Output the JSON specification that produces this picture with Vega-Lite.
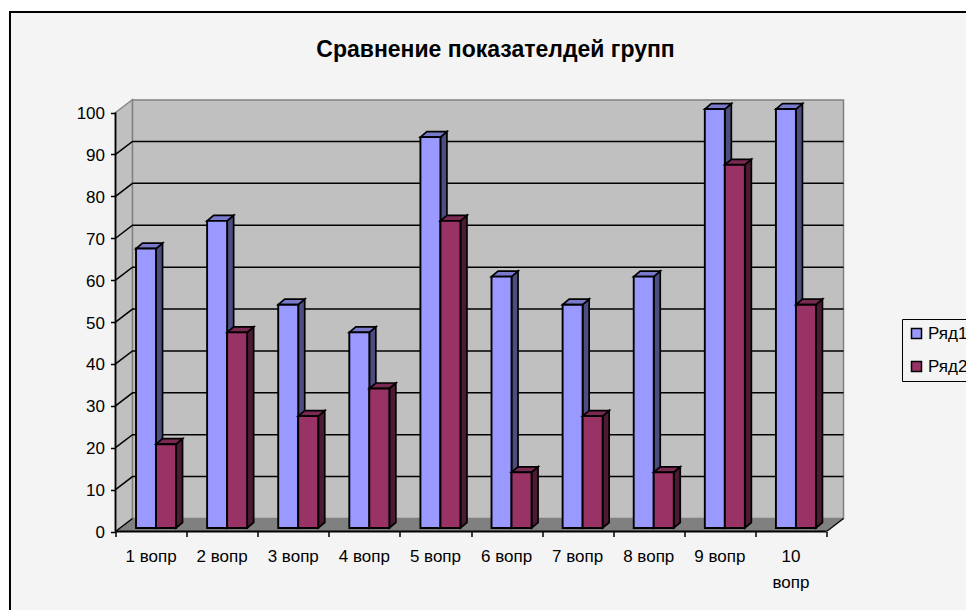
{
"$schema":"https://vega.github.io/schema/vega-lite/v6.json",
"width":728,"height":431.5,
"autosize":{"type":"none"},
"padding":{"left":115.5,"top":100,"right":122.5,"bottom":78.5},
"background":"#ffffff",
"view":{"stroke":null},
"title":{"text":"Сравнение показателдей групп","anchor":"middle","frame":"group","dx":16,"offset":-51,"font":"Liberation Sans","fontSize":23,"fontWeight":"bold","color":"#000000"},
"config":{"font":"Liberation Sans"},
"data":{"values":[
{"question":"1 вопр","series":"Ряд1","value":66.7},{"question":"1 вопр","series":"Ряд2","value":20},
{"question":"2 вопр","series":"Ряд1","value":73.3},{"question":"2 вопр","series":"Ряд2","value":46.7},
{"question":"3 вопр","series":"Ряд1","value":53.3},{"question":"3 вопр","series":"Ряд2","value":26.7},
{"question":"4 вопр","series":"Ряд1","value":46.7},{"question":"4 вопр","series":"Ряд2","value":33.3},
{"question":"5 вопр","series":"Ряд1","value":93.3},{"question":"5 вопр","series":"Ряд2","value":73.3},
{"question":"6 вопр","series":"Ряд1","value":60},{"question":"6 вопр","series":"Ряд2","value":13.3},
{"question":"7 вопр","series":"Ряд1","value":53.3},{"question":"7 вопр","series":"Ряд2","value":26.7},
{"question":"8 вопр","series":"Ряд1","value":60},{"question":"8 вопр","series":"Ряд2","value":13.3},
{"question":"9 вопр","series":"Ряд1","value":100},{"question":"9 вопр","series":"Ряд2","value":86.7},
{"question":"10 вопр","series":"Ряд1","value":100},{"question":"10 вопр","series":"Ряд2","value":53.3}
]},
"transform":[
{"calculate":"parseInt(datum.question)-1+0.2885+(datum.series=='Ряд2'?0.2815:0)","as":"b"},
{"calculate":"datum.value+0.84","as":"t"},
{"calculate":"[0,1,2,3]","as":"k"},
{"flatten":["k"]}
],
"layer":[
{"data":{"values":[{"a":0}]},"mark":{"type":"rect","fill":"#f4f4f4","stroke":"#000000","strokeWidth":2,"clip":false},
 "encoding":{
  "x":{"datum":-1.484,"type":"quantitative","scale":{"domain":[0,10.239],"nice":false,"zero":false},"axis":{"zindex":1,"values":[0,1,2,3,4,5,6,7,8,9,10],"title":null,"labels":false,"domain":false,"grid":false,"tickSize":5,"tickColor":"#000000","tickWidth":1.5}},
  "x2":{"datum":12.1},
  "y":{"datum":124,"type":"quantitative","scale":{"domain":[0,103],"nice":false,"zero":false},"axis":{"zindex":1,"values":[0,10,20,30,40,50,60,70,80,90,100],"title":null,"domain":false,"grid":false,"tickSize":5,"tickColor":"#000000","tickWidth":1.5,"labelFontSize":17,"labelColor":"#000000","labelPadding":6,"labelOffset":1,"labelFont":"Liberation Sans"}},
  "y2":{"datum":-21.1}}},
{"data":{"values":[{"k":0},{"k":1}]},"transform":[{"calculate":"datum.k*0.2393","as":"px"},{"calculate":"datum.k*3.1","as":"py"},{"calculate":"100+datum.k*3.1","as":"pt"}],
 "mark":{"type":"area","fill":"#c0c0c0","stroke":"#808080","strokeWidth":1.3},
 "encoding":{"x":{"field":"px","type":"quantitative"},"y":{"field":"pt","type":"quantitative","stack":false},"y2":{"field":"py"}}},
{"data":{"values":[{"a":0}]},"mark":{"type":"rect","fill":"#c0c0c0","stroke":"#808080","strokeWidth":1.5},
 "encoding":{"x":{"datum":0.2393,"type":"quantitative"},"x2":{"datum":10.239},"y":{"datum":3.1,"type":"quantitative"},"y2":{"datum":103}}},
{"data":{"values":[{"k":0},{"k":1},{"k":2},{"k":3}]},"transform":[{"calculate":"[0,0.2393,10,10.2393][datum.k]","as":"px"},{"calculate":"[0,3.1,3.1,3.1][datum.k]","as":"pt"},{"calculate":"[0,0,0,3.1][datum.k]","as":"pb"}],
 "mark":{"type":"area","fill":"#808080"},
 "encoding":{"x":{"field":"px","type":"quantitative"},"y":{"field":"pt","type":"quantitative","stack":false},"y2":{"field":"pb"}}},
{"data":{"values":[{"tick":10},{"tick":20},{"tick":30},{"tick":40},{"tick":50},{"tick":60},{"tick":70},{"tick":80},{"tick":90}]},
 "transform":[{"calculate":"[0,1,2]","as":"k"},{"flatten":["k"]},{"calculate":"[0,0.2393,10.2393][datum.k]","as":"px"},{"calculate":"datum.tick+(datum.k>0?3.1:0)","as":"py"}],
 "mark":{"type":"line","color":"#000000","strokeWidth":1.5},
 "encoding":{"x":{"field":"px","type":"quantitative"},"y":{"field":"py","type":"quantitative"},"detail":{"field":"tick"}}},
{"data":{"values":[{"k":0},{"k":1}]},"transform":[{"calculate":"datum.k*0.2393","as":"px"},{"calculate":"datum.k*3.1","as":"py"}],
 "mark":{"type":"line","color":"#000000","strokeWidth":1.3},
 "encoding":{"x":{"field":"px","type":"quantitative"},"y":{"field":"py","type":"quantitative"}}},
{"data":{"values":[{"k":0},{"k":1}]},"transform":[{"calculate":"datum.k*10","as":"px"},{"calculate":"0","as":"py"}],
 "mark":{"type":"line","color":"#000000","strokeWidth":1.8},
 "encoding":{"x":{"field":"px","type":"quantitative"},"y":{"field":"py","type":"quantitative"}}},
{"data":{"values":[{"k":0},{"k":1}]},"transform":[{"calculate":"0","as":"px"},{"calculate":"datum.k*100","as":"py"}],
 "mark":{"type":"line","color":"#000000","strokeWidth":1.8},
 "encoding":{"x":{"field":"px","type":"quantitative"},"y":{"field":"py","type":"quantitative"}}},
{"data":{"values":[{"k":0},{"k":1}]},"transform":[{"calculate":"10+datum.k*0.2393","as":"px"},{"calculate":"datum.k*3.1","as":"py"}],
 "mark":{"type":"line","color":"#000000","strokeWidth":1.3},
 "encoding":{"x":{"field":"px","type":"quantitative"},"y":{"field":"py","type":"quantitative"}}},

{"transform":[{"filter":"datum.series=='Ряд1' && datum.k<2"},{"calculate":"datum.b+0.2815+datum.k*0.0915","as":"px"},{"calculate":"datum.t+datum.k*1.31","as":"pt"},{"calculate":"0.84+datum.k*1.31","as":"pb"},{"calculate":"datum.question+datum.series","as":"id"}],
 "mark":{"type":"area","fill":"#4d4d80","stroke":"#000000","strokeWidth":1.7},
 "encoding":{"x":{"field":"px","type":"quantitative"},"y":{"field":"pt","type":"quantitative","stack":false},"y2":{"field":"pb"},"detail":{"field":"id"}}},
{"transform":[{"filter":"datum.series=='Ряд1'"},{"calculate":"datum.b+[0,0.0915,0.2815,0.373][datum.k]","as":"px"},{"calculate":"datum.t+[0,1.31,1.31,1.31][datum.k]","as":"pt"},{"calculate":"datum.t+[0,0,0,1.31][datum.k]","as":"pb"},{"calculate":"datum.question+datum.series","as":"id"}],
 "mark":{"type":"area","fill":"#7a7acc","stroke":"#000000","strokeWidth":1.7},
 "encoding":{"x":{"field":"px","type":"quantitative"},"y":{"field":"pt","type":"quantitative","stack":false},"y2":{"field":"pb"},"detail":{"field":"id"}}},
{"transform":[{"filter":"datum.series=='Ряд1' && datum.k==0"},{"calculate":"datum.b+0.2815","as":"b2"},{"calculate":"0.84","as":"base"}],
 "mark":{"type":"rect","stroke":"#000000","strokeWidth":1.9},
 "encoding":{"x":{"field":"b","type":"quantitative"},"x2":{"field":"b2"},"y":{"field":"t","type":"quantitative"},"y2":{"field":"base"},
  "fill":{"field":"series","type":"nominal","scale":{"domain":["Ряд1","Ряд2"],"range":["#9999ff","#993366"]},
   "legend":{"title":null,"orient":"none","legendX":786.5,"legendY":219,"padding":6,"fillColor":"#f4f4f4","strokeColor":"#000000","symbolType":"square","symbolSize":100,"symbolStrokeColor":"#000000","symbolStrokeWidth":1.5,"labelFontSize":17,"labelColor":"#000000","labelFont":"Liberation Sans","rowPadding":15,"labelOffset":3,"columnPadding":0}}}},

{"transform":[{"filter":"datum.series=='Ряд2' && datum.k<2"},{"calculate":"datum.b+0.2815+datum.k*0.0915","as":"px"},{"calculate":"datum.t+datum.k*1.31","as":"pt"},{"calculate":"0.84+datum.k*1.31","as":"pb"},{"calculate":"datum.question+datum.series","as":"id"}],
 "mark":{"type":"area","fill":"#4d1a33","stroke":"#000000","strokeWidth":1.7},
 "encoding":{"x":{"field":"px","type":"quantitative"},"y":{"field":"pt","type":"quantitative","stack":false},"y2":{"field":"pb"},"detail":{"field":"id"}}},
{"transform":[{"filter":"datum.series=='Ряд2'"},{"calculate":"datum.b+[0,0.0915,0.2815,0.373][datum.k]","as":"px"},{"calculate":"datum.t+[0,1.31,1.31,1.31][datum.k]","as":"pt"},{"calculate":"datum.t+[0,0,0,1.31][datum.k]","as":"pb"},{"calculate":"datum.question+datum.series","as":"id"}],
 "mark":{"type":"area","fill":"#7a2952","stroke":"#000000","strokeWidth":1.7},
 "encoding":{"x":{"field":"px","type":"quantitative"},"y":{"field":"pt","type":"quantitative","stack":false},"y2":{"field":"pb"},"detail":{"field":"id"}}},
{"transform":[{"filter":"datum.series=='Ряд2' && datum.k==0"},{"calculate":"datum.b+0.2815","as":"b2"},{"calculate":"0.84","as":"base"}],
 "mark":{"type":"rect","stroke":"#000000","strokeWidth":1.9},
 "encoding":{"x":{"field":"b","type":"quantitative"},"x2":{"field":"b2"},"y":{"field":"t","type":"quantitative"},"y2":{"field":"base"},
  "fill":{"field":"series","type":"nominal"}}},

{"transform":[{"filter":"datum.series=='Ряд1' && datum.k==0"},{"calculate":"parseInt(datum.question)-0.5","as":"c"},{"calculate":"replace(datum.question,'10 ','10\\n')","as":"lab"},{"calculate":"0","as":"base"}],
 "mark":{"type":"text","font":"Liberation Sans","fontSize":17,"color":"#000000","baseline":"top","align":"center","dy":17,"lineBreak":"\n","lineHeight":26},
 "encoding":{"x":{"field":"c","type":"quantitative"},"y":{"field":"base","type":"quantitative"},"text":{"field":"lab"}}}
]
}
